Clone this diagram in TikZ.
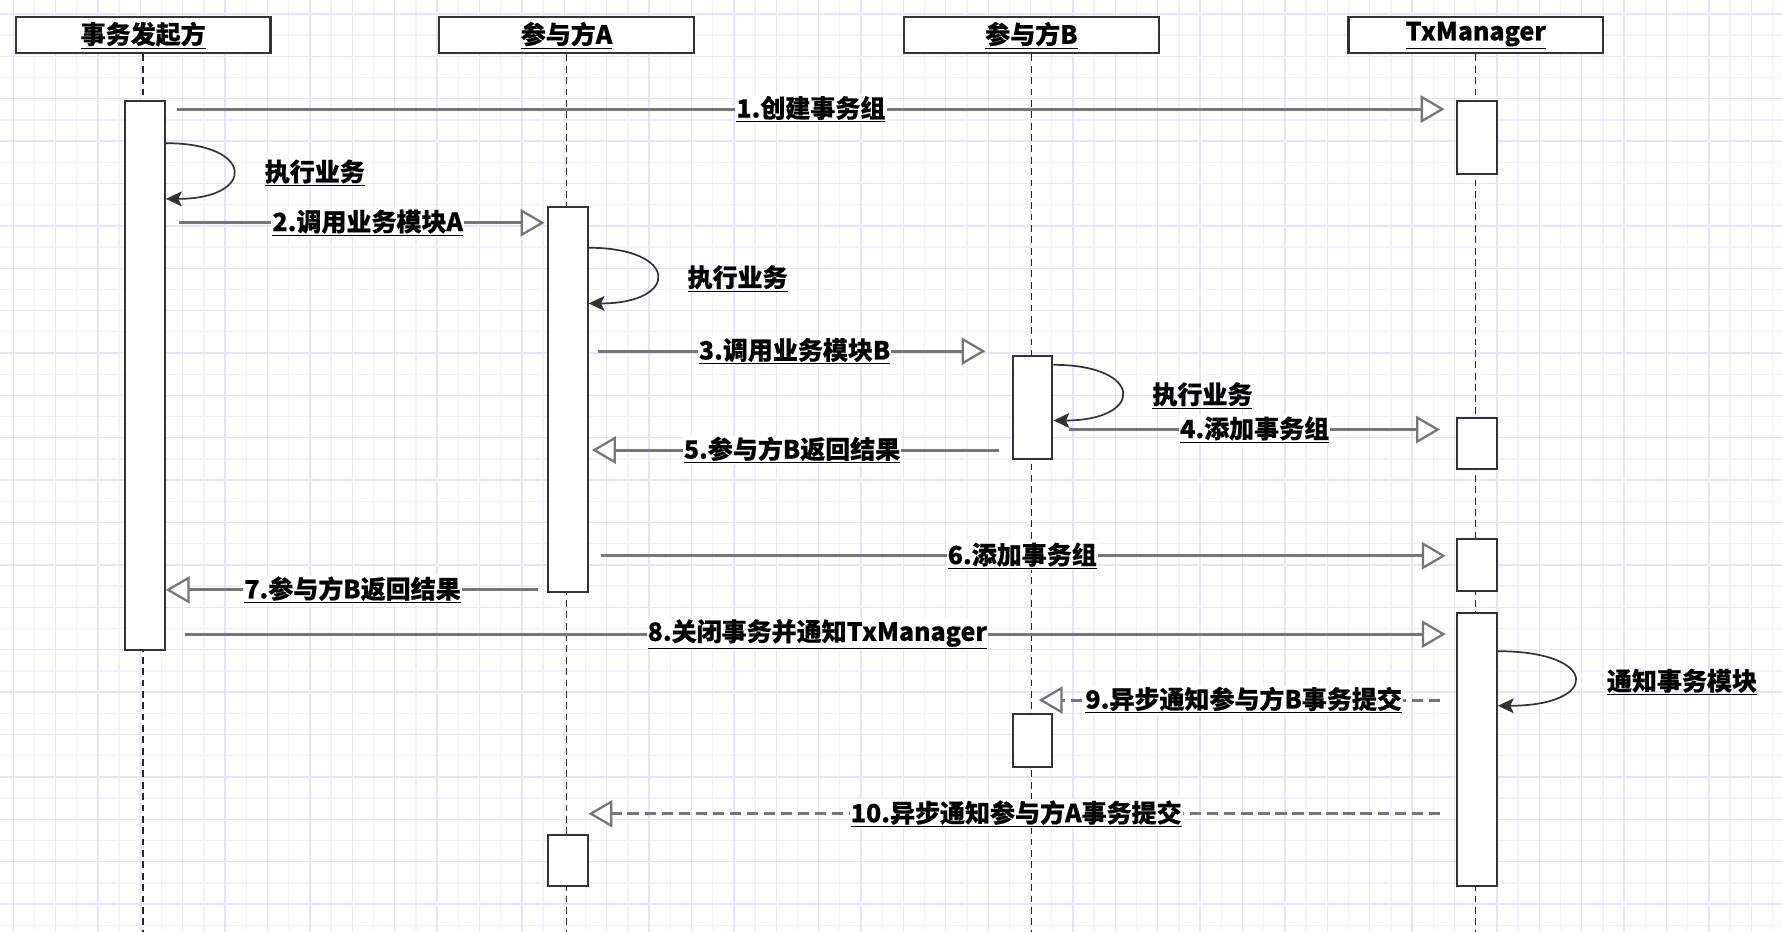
\documentclass[tikz,border=0pt]{standalone}
\usepackage{fontspec}
\setmainfont{Noto Sans CJK SC}[BoldFeatures={FakeBold=0.6}]
\usetikzlibrary{positioning, arrows.meta}

\definecolor{gridminor}{RGB}{241,241,253}
\definecolor{gridmajor}{RGB}{228,228,250}
\definecolor{msggray}{RGB}{118,118,118}

\begin{document}
\begin{tikzpicture}[
    x=1pt, y=-1pt,
    font=\fontsize{22}{26}\selectfont\bfseries,
    header/.style={draw=black!80, fill=white, line width=1.9pt,
        minimum width=224pt, minimum height=32pt, inner sep=0pt},
    actbox/.style={draw=black!80, fill=white, line width=1.8pt,
        minimum width=35pt, inner sep=0pt},
    lifeline/.style={draw=black!85, line width=1.3pt, dash pattern=on 6pt off 4pt},
    msg/.style={draw=msggray, line width=2.6pt,
        -{Triangle[length=21pt, width=24pt, fill=white, line width=2pt]}},
    reply/.style={msg, dash pattern=on 10pt off 5pt},
    msgtext/.style={fill=white, inner sep=1pt},
    selfcall/.style={draw=black!80, line width=1.5pt,
        -{Stealth[length=14pt, width=13pt, inset=3pt]}},
    note/.style={inner sep=1pt}
]

\useasboundingbox (0,0) rectangle (1568,820);
\fill[white] (0,0) rectangle (1568,820);

% Grid paper
\foreach \i in {1,3,...,83} {
    \pgfmathsetmacro{\gx}{11.6+18.65*\i}
    \draw[gridminor, line width=1.2pt] (\gx,0) -- (\gx,820);
}
\foreach \j in {1,3,...,43} {
    \pgfmathsetmacro{\gy}{12.2+18.65*\j}
    \draw[gridminor, line width=1.2pt] (0,\gy) -- (1568,\gy);
}
\foreach \i in {0,2,...,82} {
    \pgfmathsetmacro{\gx}{11.6+18.65*\i}
    \draw[gridmajor, line width=1.2pt] (\gx,0) -- (\gx,820);
}
\foreach \j in {0,2,...,42} {
    \pgfmathsetmacro{\gy}{12.2+18.65*\j}
    \draw[gridmajor, line width=1.2pt] (0,\gy) -- (1568,\gy);
}

%%%%%%%%%%%%%%%%%%%%%
% Participants and lifelines
%%%%%%%%%%%%%%%%%%%%%
\node[header] (h1) at (126,31) {\underline{事务发起方}};
\node[header] (h2) at (498.5,31) {\underline{参与方A}};
\node[header] (h3) at (907.5,31) {\underline{参与方B}};
\node[header] (h4) at (1298.5,31) {\underline{TxManager}};

\foreach \h in {h1,h2,h3,h4}
    \draw[lifeline] (\h.south) -- (\h.south |- 0,820);

%%%%%%%%%%%%%%%%%%%%%
% Activations
%%%%%%%%%%%%%%%%%%%%%
\node[actbox, minimum height=483pt] (a1) at (127.5,330.5) {};
\node[actbox, minimum height=64pt]  (t1) at (1299.5,121) {};
\node[actbox, minimum height=339pt] (a2) at (499.5,351.5) {};
\node[actbox, minimum height=91pt]  (b1) at (908.5,358.5) {};
\node[actbox, minimum height=45pt]  (t2) at (1299.5,390.5) {};
\node[actbox, minimum height=46pt]  (t3) at (1299.5,497) {};
\node[actbox, minimum height=241pt] (t4) at (1299.5,659.5) {};
\node[actbox, minimum height=47pt]  (b2) at (908.5,651.5) {};
\node[actbox, minimum height=45pt]  (a3) at (499.5,757.5) {};

%%%%%%%%%%%%%%%%%%%%%
% Self calls
%%%%%%%%%%%%%%%%%%%%%
\draw[selfcall] (a1.east |- 0,126) .. controls (225,126) and (225,175) .. (a1.east |- 0,175);
\node[note] (n1) at (277,152) {\underline{执行业务}};

\draw[selfcall] (a2.east |- 0,218) .. controls (598,218) and (598,267) .. (a2.east |- 0,267);
\node[note] (n2) at (649,245) {\underline{执行业务}};

\draw[selfcall] (b1.east |- 0,321) .. controls (1007,321) and (1007,370) .. (b1.east |- 0,370);
\node[note] (n3) at (1058,348) {\underline{执行业务}};

\draw[selfcall] (t4.east |- 0,573) .. controls (1408,573) and (1408,621) .. (t4.east |- 0,621);
\node[note] (n4) at (1480,600) {\underline{通知事务模块}};

%%%%%%%%%%%%%%%%%%%%%
% Messages
%%%%%%%%%%%%%%%%%%%%%
\draw[msg, shorten <=10pt, shorten >=10pt] (a1.east |- 0,96) -- node[midway, msgtext] {\underline{1.创建事务组}} (t1.west |- 0,96);
\draw[msg, shorten <=12pt, shorten >=2pt] (a1.east |- 0,196) -- node[pos=0.53, msgtext] {\underline{2.调用业务模块A}} (a2.west |- 0,196);
\draw[msg, shorten <=8pt, shorten >=23pt] (a2.east |- 0,309) -- node[pos=0.487, msgtext] {\underline{3.调用业务模块B}} (b1.west |- 0,309);
\draw[msg, shorten <=14pt, shorten >=14pt] (b1.east |- 0,378) -- node[midway, msgtext] {\underline{4.添加事务组}} (t2.west |- 0,378);
\draw[msg, shorten <=11pt, shorten >=3pt] (b1.west |- 0,396) -- node[pos=0.519, msgtext] {\underline{5.参与方B返回结果}} (a2.east |- 0,396);
\draw[msg, shorten <=11pt, shorten >=9pt] (a2.east |- 0,489) -- node[midway, msgtext] {\underline{6.添加事务组}} (t3.west |- 0,489);
\draw[msg, shorten <=8pt] (a2.west |- 0,519) -- node[pos=0.51, msgtext] {\underline{7.参与方B返回结果}} (a1.east |- 0,519);
\draw[msg, shorten <=17pt, shorten >=9pt] (a1.east |- 0,558) -- node[pos=0.505, msgtext] {\underline{8.关闭事务并通知TxManager}} (t4.west |- 0,558);
\draw[reply, shorten <=14pt, shorten >=6.5pt] (t4.west |- 0,616) -- node[midway, msgtext] {\underline{9.异步通知参与方B事务提交}} (h3.south |- 0,616);
\draw[reply, shorten <=14pt] (t4.west |- 0,716) -- node[pos=0.507, msgtext] {\underline{10.异步通知参与方A事务提交}} (a3.east |- 0,716);

\end{tikzpicture}
\end{document}
